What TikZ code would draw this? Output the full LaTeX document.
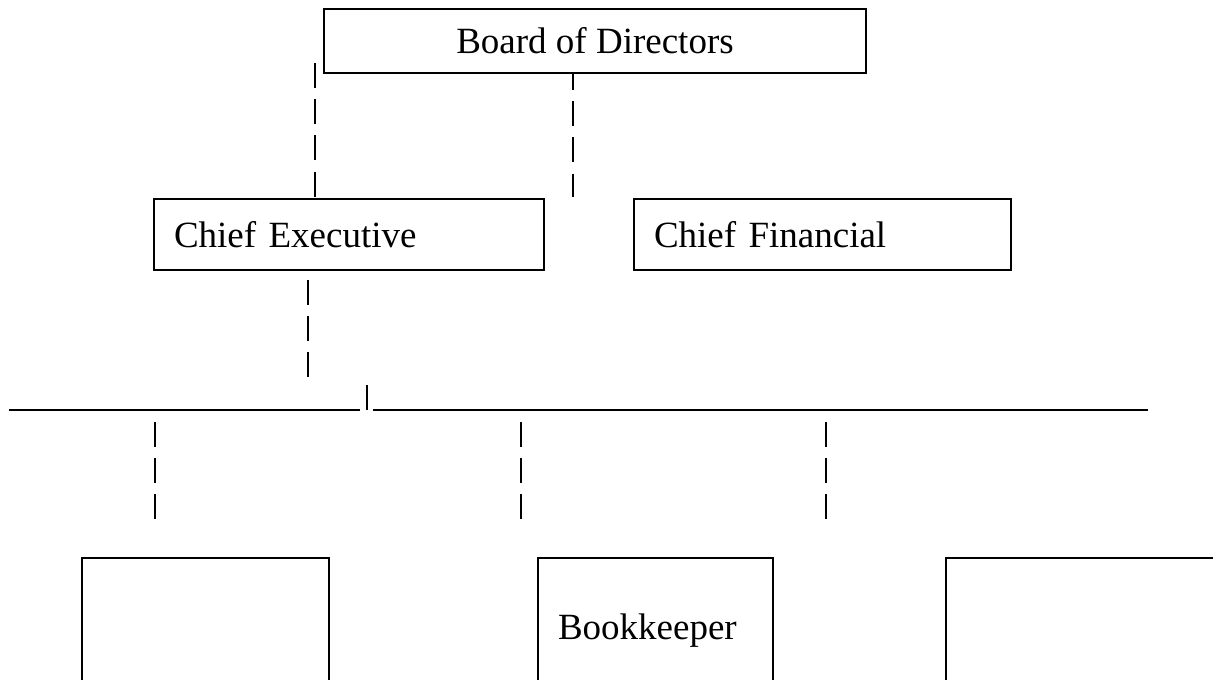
\documentclass[tikz,border=0pt]{standalone}
\usepackage{fontspec}
\setmainfont{Liberation Serif}
\usetikzlibrary{positioning,calc}

\begin{document}
\begin{tikzpicture}
	[x=0.5pt,y=-0.5pt,line width=1pt,
	post/.style={rectangle,draw,fill=white,anchor=north west,inner sep=0pt,font=\fontsize{18.5pt}{22pt}\selectfont},
	bar/.style={dash pattern=on 12.5pt off 5.6pt}]
	\useasboundingbox (0,0) rectangle (1213,679);
	\clip (0,0) rectangle (1213,679);
	\node [post,minimum width=271pt,minimum height=32pt] (board) at (323,8) {Board of Directors};
	\node [post,minimum height=35.5pt,text width=175pt,inner xsep=10pt,align=left] (ceo) at (153,198) {Chief Executive};
	\node [post,minimum height=35.5pt,text width=168.5pt,inner xsep=10pt,align=left] (cfo) at (633,198) {Chief Financial};
	\node [post,minimum width=123.5pt,minimum height=72.5pt] (staffA) at (81,557) {};
	\node [post,minimum height=72.5pt,text width=97.5pt,inner xsep=10pt,align=left] (keeper) at (537,557) {Bookkeeper};
	\node [post,minimum width=140pt,minimum height=72.5pt] (staffC) at (945,557) {};
	\coordinate (bdL) at (315,63);
	\coordinate (cfT) at (573,197);
	\coordinate (ceL) at (308,377);
	\coordinate (hA) at (9,410);
	\coordinate (hB) at (360,410);
	\coordinate (hC) at (373,410);
	\coordinate (hD) at (1148,410);
	\coordinate (tk) at (367,385);
	\coordinate (dA) at (155,422);
	\coordinate (dB) at (521,422);
	\coordinate (dC) at (826,422);
	\draw[bar] (bdL) -- (bdL |- ceo.north);
	\draw[bar,dash phase=4.5pt] (board.south -| cfT) -- (cfT);
	\draw[bar] ($(ceo.south -| ceL)+(0,9)$) -- (ceL);
	\draw (hA) -- (hB);
	\draw (hC) -- (hD);
	\draw (tk) -- (tk |- hA);
	\draw[bar] (dA) -- ($(dA |- staffA.north)+(0,-38)$);
	\draw[bar] (dB) -- ($(dB |- keeper.north)+(0,-38)$);
	\draw[bar] (dC) -- ($(dC |- staffC.north)+(0,-38)$);
\end{tikzpicture}
\end{document}
